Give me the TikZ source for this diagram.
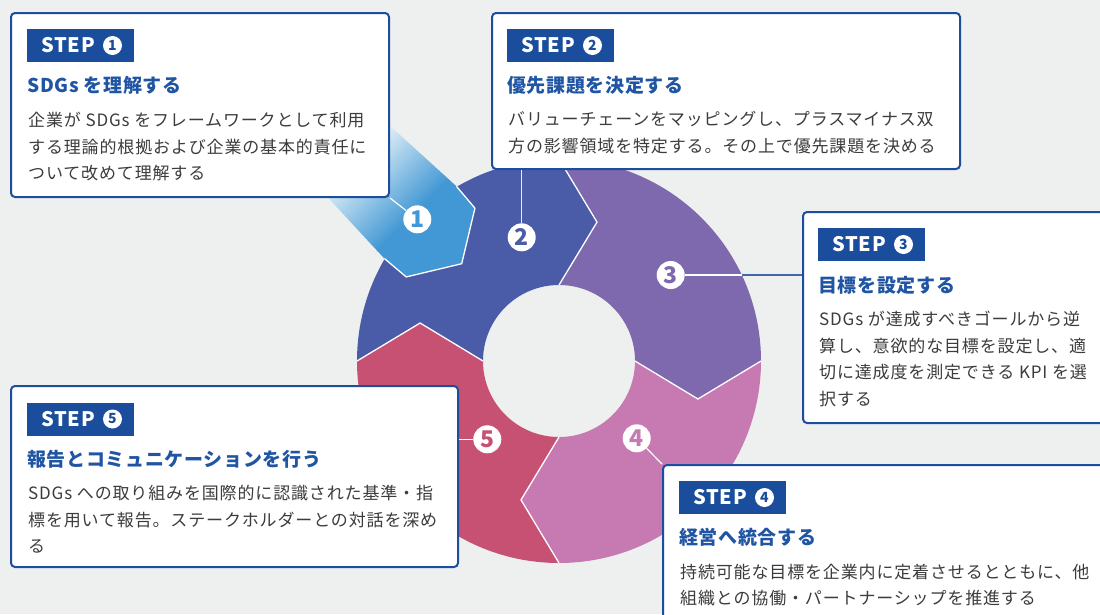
\documentclass[tikz,border=0pt]{standalone}
\usepackage{fontspec}
\setmainfont{Noto Sans CJK JP}
\newfontfamily\jbody[LetterSpace=5]{Noto Sans CJK JP}
\newfontfamily\jtitle[LetterSpace=3.5]{Noto Sans CJK JP}
\newfontfamily\jstep[LetterSpace=4]{Noto Sans CJK JP}
\newfontfamily\jnum{Noto Sans CJK JP}
\definecolor{bgc}{RGB}{238,240,239}
\definecolor{seg1}{RGB}{65,152,212}
\definecolor{seg2}{RGB}{74,91,168}
\definecolor{seg3}{RGB}{127,105,174}
\definecolor{seg4}{RGB}{199,122,178}
\definecolor{seg5}{RGB}{199,81,115}
\definecolor{boxblue}{RGB}{29,78,158}
\definecolor{lblblue}{RGB}{26,78,156}
\definecolor{ttlblue}{RGB}{32,85,164}
\definecolor{bodytxt}{RGB}{60,60,60}
\definecolor{leadblue}{RGB}{66,104,172}
\begin{document}
\begin{tikzpicture}[x=1pt,y=-1pt,
  sepline/.style={white, line width=1.3pt, line join=miter},
  leadw/.style={white, line width=1.2pt},
  boxst/.style={draw=boxblue, line width=2pt, fill=white, rounded corners=4pt, inner sep=0pt, anchor=north west},
  lbl/.style={fill=lblblue, inner sep=0pt, anchor=north west, minimum width=107pt, minimum height=33pt},
  steptxt/.style={anchor=west, inner sep=0pt, text=white, font=\jstep\bfseries\fontsize{20}{20}\selectfont},
  stepnum/.style={circle, fill=white, minimum size=19pt, inner sep=0pt, text=lblblue, font=\jnum\bfseries\fontsize{14}{14}\selectfont},
  numc/.style={circle, fill=white, minimum size=28pt, inner sep=0pt, font=\jnum\bfseries\fontsize{23}{23}\selectfont},
  ttl/.style={anchor=base west, inner sep=0pt, text=ttlblue, font=\jtitle\bfseries\fontsize{19}{22}\selectfont},
  bodyl/.style={anchor=base west, inner sep=0pt, text=bodytxt, font=\jbody\fontsize{17}{20}\selectfont}
]
\useasboundingbox (0,0) rectangle (1100,614);
\clip (0,0) rectangle (1100,614);
\fill[bgc] (0,0) rectangle (1100,614);

% ring
\begin{scope}[shift={(559,361)}, yscale=-1]
  \foreach \a/\c in {180/seg2, 90/seg3, 0/seg4, -90/seg5} {
    \fill[\c] (\a:202) arc[start angle=\a, end angle=\a-90, radius=202]
      -- (\a-105.3:144) -- (\a-90:76)
      arc[start angle=\a-90, end angle=\a, radius=76]
      -- (\a-15.3:144) -- cycle;
  }
  \foreach \a in {180,90,0,-90}
    \draw[sepline] (\a:202) -- (\a-15.3:144) -- (\a:76);
  % step 1 arrow
  \begin{scope}[rotate=-135]
    \begin{scope}
      \clip (137.6,0) -- (167.5,-48.6) -- (196,-51) -- (300,-46) -- (300,47) -- (196,51) -- (167.5,48.6) -- cycle;
      \fill[seg1] (130,-60) rectangle (206,60);
      \foreach \k in {0,...,47} {
        \pgfmathsetmacro\pct{max(0,100-2.1*\k)}
        \fill[seg1!\pct!white] ({205+2*\k},-60) rectangle ({207.4+2*\k},60);
      }
    \end{scope}
    \draw[sepline] (196,-51) -- (167.5,-48.6) -- (137.6,0) -- (167.5,48.6) -- (196,51);
  \end{scope}
\end{scope}

% numbers on the ring
\node[numc, text=seg1] (n1) at (417.3,219.3) {1};
\node[numc, text=seg2] (n2) at (521.7,237.3) {2};
\node[numc, text=seg3] (n3) at (670.7,275) {3};
\node[numc, text=seg4] (n4) at (636.7,438.3) {4};
\node[numc, text=seg5] (n5) at (487.3,439.3) {5};

% boxes
\node[boxst, minimum width=378pt, minimum height=184pt] (b1) at (10,12) {};
\node[boxst, minimum width=468pt, minimum height=156pt] (b2) at (491,12) {};
\node[boxst, minimum width=320pt, minimum height=211pt] (b3) at (802,211) {};
\node[boxst, minimum width=460pt, minimum height=170pt] (b4) at (662,464) {};
\node[boxst, minimum width=447pt, minimum height=181pt] (b5) at (10,385) {};

% leader lines
\draw[leadw] (n1) -- (b1.south east);
\draw[white!88!seg2, line width=1.2pt] (n2) -- (n2 |- b2.south);
\coordinate (c3) at (741.8,275);
\draw[leadw] (n3) -- (c3);
\draw[leadblue, line width=1.2pt] (c3) -- (c3 -| b3.west);
\draw[leadw] (n4) -- (b4.north west);
\draw[leadw] (n5) -- (n5 -| b5.east);

% box 1
\node[lbl] (l1) at (27,29) {};
\node[steptxt] (s1) at (41,45.5) {STEP};
\node[stepnum] (d1) at (112.5,45.5) {1};
\node[ttl] (t1) at (27,92) {SDGs を理解する};
\node[bodyl] (p1a) at (28,126.5) {企業が SDGs をフレームワークとして利用};
\node[bodyl] (p1b) at (28,153.2) {する理論的根拠および企業の基本的責任に};
\node[bodyl] (p1c) at (28,179.8) {ついて改めて理解する};

% box 2
\node[lbl] (l2) at (507,29) {};
\node[steptxt] (s2) at (521,45.5) {STEP};
\node[stepnum] (d2) at (592.5,45.5) {2};
\node[ttl] (t2) at (507,92) {優先課題を決定する};
\node[bodyl] (p2a) at (508,125.5) {バリューチェーンをマッピングし、プラスマイナス双};
\node[bodyl] (p2b) at (508,152.2) {方の影響領域を特定する。その上で優先課題を決める};

% box 3
\node[lbl] (l3) at (818,228) {};
\node[steptxt] (s3) at (832,244.5) {STEP};
\node[stepnum] (d3) at (903.5,244.5) {3};
\node[ttl] (t3) at (818,292) {目標を設定する};
\node[bodyl] (p3a) at (819,325.5) {SDGs が達成すべきゴールから逆};
\node[bodyl] (p3b) at (819,352.2) {算し、意欲的な目標を設定し、適};
\node[bodyl] (p3c) at (819,378.8) {切に達成度を測定できる KPI を選};
\node[bodyl] (p3d) at (819,405.5) {択する};

% box 4
\node[lbl] (l4) at (679,481) {};
\node[steptxt] (s4) at (693,497.5) {STEP};
\node[stepnum] (d4) at (764.5,497.5) {4};
\node[ttl] (t4) at (679,544) {経営へ統合する};
\node[bodyl] (p4a) at (680,578.2) {持続可能な目標を企業内に定着させるとともに、他};
\node[bodyl] (p4b) at (680,604) {組織との協働・パートナーシップを推進する};

% box 5
\node[lbl] (l5) at (27,402.5) {};
\node[steptxt] (s5) at (41,419) {STEP};
\node[stepnum] (d5) at (112.5,419) {5};
\node[ttl] (t5) at (27,466) {報告とコミュニケーションを行う};
\node[bodyl] (p5a) at (28,499.8) {SDGs への取り組みを国際的に認識された基準・指};
\node[bodyl] (p5b) at (28,526.5) {標を用いて報告。ステークホルダーとの対話を深め};
\node[bodyl] (p5c) at (28,552.5) {る};
\end{tikzpicture}
\end{document}
